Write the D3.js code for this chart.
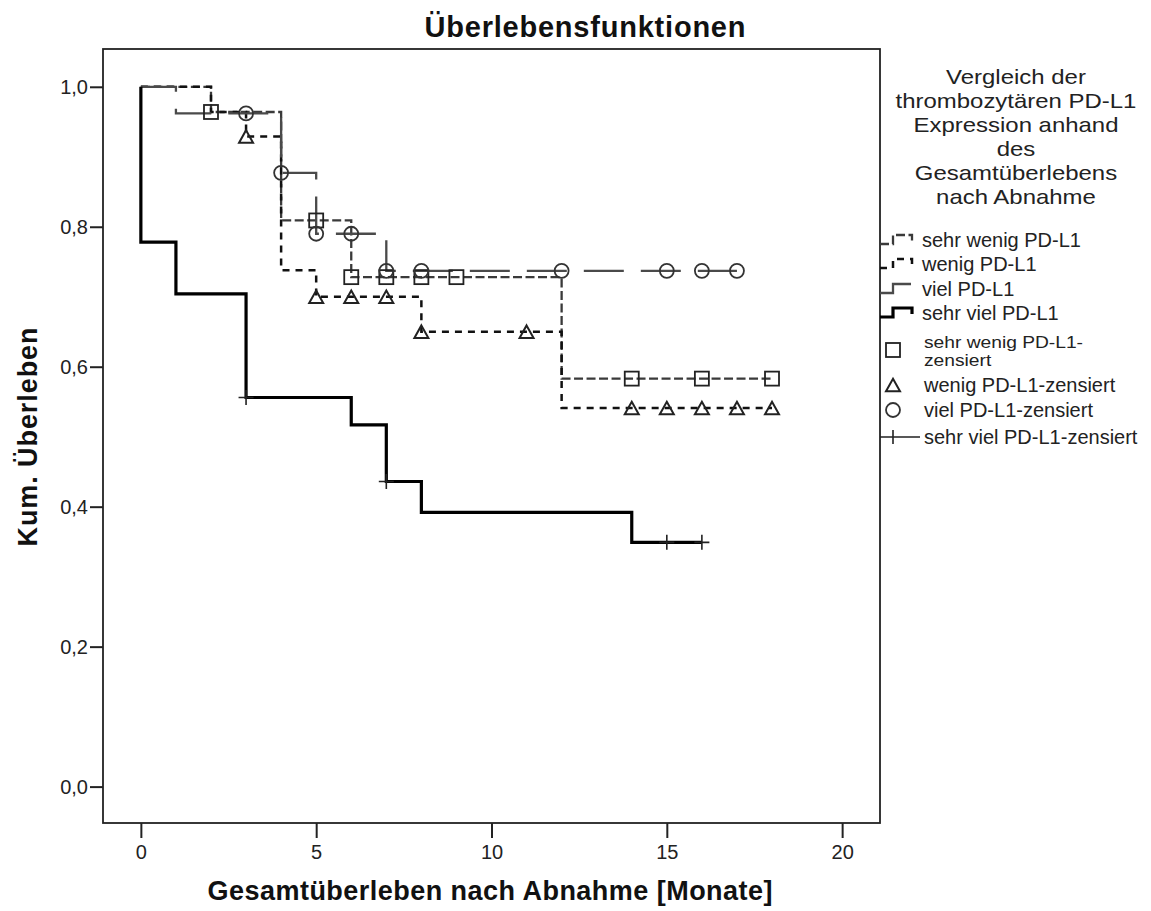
<!DOCTYPE html>
<html>
<head>
<meta charset="utf-8">
<script src="https://cdn.jsdelivr.net/npm/d3@7"></script>
<style>
  html, body { margin: 0; padding: 0; background: #fff; }
  svg { display: block; font-family: "Liberation Sans", Arial, sans-serif; }
</style>
</head>
<body>
<svg id="chart" width="1151" height="911"></svg>
<script>
// Kaplan-Meier survival data per PD-L1 group
const groupNames = ["sehr wenig PD-L1", "wenig PD-L1", "viel PD-L1", "sehr viel PD-L1"];

// event times (months) and survival after each step
const sehrWenigTimes = [0, 2, 4, 6, 12];
const sehrWenigSurv  = [1, 0.964, 0.809, 0.728, 0.583];
const sehrWenigEnd   = 18;
const sehrWenigCensored = [2, 5, 6, 7, 8, 9, 14, 16, 18];

const wenigTimes = [0, 2, 3, 4, 5, 8, 12];
const wenigSurv  = [1, 0.964, 0.929, 0.738, 0.700, 0.650, 0.541];
const wenigEnd   = 18;
const wenigCensored = [3, 5, 6, 7, 8, 11, 14, 15, 16, 17, 18];

const vielTimes = [0, 1, 4, 5, 7];
const vielSurv  = [1, 0.962, 0.877, 0.790, 0.737];
const vielEnd   = 17;
const vielCensored = [3, 4, 5, 6, 7, 8, 12, 15, 16, 17];

const sehrVielTimes = [0, 0, 1, 3, 6, 7, 8, 14];
const sehrVielSurv  = [1, 0.778, 0.704, 0.556, 0.517, 0.436, 0.392, 0.349];
const sehrVielEnd   = 16;
const sehrVielCensored = [3, 7, 15, 16];

const xTicks = [0, 5, 10, 15, 20];
const yTicks = [0, 0.2, 0.4, 0.6, 0.8, 1.0];

const chartTitle = "Überlebensfunktionen";
const xTitle = "Gesamtüberleben nach Abnahme [Monate]";
const yTitle = "Kum. Überleben";
const legendTitle = ["Vergleich der", "thrombozytären PD-L1", "Expression anhand", "des", "Gesamtüberlebens", "nach Abnahme"];
const censorLabels = [["sehr wenig PD-L1-", "zensiert"], ["wenig PD-L1-zensiert"], ["viel PD-L1-zensiert"], ["sehr viel PD-L1-zensiert"]];

const groups = [
  { name: groupNames[0], times: sehrWenigTimes, surv: sehrWenigSurv, end: sehrWenigEnd, censored: sehrWenigCensored,
    stroke: "#3a3a3a", width: 2.3, dash: "9,3.5", marker: "square" },
  { name: groupNames[1], times: wenigTimes, surv: wenigSurv, end: wenigEnd, censored: wenigCensored,
    stroke: "#111", width: 2.5, dash: "7,6", marker: "triangle" },
  { name: groupNames[2], times: vielTimes, surv: vielSurv, end: vielEnd, censored: vielCensored,
    stroke: "#4a4a4a", width: 2.3, dash: "40,17", marker: "circle" },
  { name: groupNames[3], times: sehrVielTimes, surv: sehrVielSurv, end: sehrVielEnd, censored: sehrVielCensored,
    stroke: "#000", width: 3.2, dash: null, marker: "cross" }
];

const svg = d3.select("#chart");
const frame = { left: 103, right: 880, top: 49, bottom: 823 };

const x = d3.scaleLinear().domain([-1.08, 21.08]).range([frame.left, frame.right]);
const y = d3.scaleLinear().domain([-0.052, 1.054]).range([frame.bottom, frame.top]);

const deLocale = d3.formatLocale({ decimal: ",", thousands: ".", grouping: [3], currency: ["", " €"] });
const fmt = deLocale.format(".1f");

// widen a text horizontally by a factor, keeping its font size
function stretch(sel, factor) {
  sel.each(function () {
    const w = this.getComputedTextLength();
    d3.select(this).attr("textLength", w * factor).attr("lengthAdjust", "spacingAndGlyphs");
  });
}

// plot frame
svg.append("rect")
  .attr("x", frame.left).attr("y", frame.top)
  .attr("width", frame.right - frame.left).attr("height", frame.bottom - frame.top)
  .attr("fill", "none").attr("stroke", "#222").attr("stroke-width", 1.8);

// axes
const yAxis = svg.append("g")
  .attr("transform", `translate(${frame.left},0)`)
  .call(d3.axisLeft(y).tickValues(yTicks).tickFormat(fmt).tickSize(13).tickPadding(2));
const xAxis = svg.append("g")
  .attr("transform", `translate(0,${frame.bottom})`)
  .call(d3.axisBottom(x).tickValues(xTicks).tickFormat(d3.format("d")).tickSize(15).tickPadding(7));
[xAxis, yAxis].forEach(g => {
  g.select(".domain").remove();
  g.selectAll(".tick line").attr("stroke", "#222").attr("stroke-width", 2);
  g.selectAll(".tick text").attr("fill", "#222").style("font-size", "20px")
    .style("font-family", "'Liberation Sans', Arial, sans-serif");
});

// titles
svg.append("text").attr("x", 585).attr("y", 37).attr("text-anchor", "middle")
  .style("font-size", "29px").style("font-weight", "bold").attr("fill", "#111")
  .attr("textLength", 321)
  .text(chartTitle);
svg.append("text").attr("x", 490).attr("y", 900).attr("text-anchor", "middle")
  .style("font-size", "27px").style("font-weight", "bold").attr("fill", "#111")
  .attr("textLength", 565)
  .text(xTitle);
svg.append("text").attr("transform", "translate(37,437) rotate(-90)").attr("text-anchor", "middle")
  .style("font-size", "27px").style("font-weight", "bold").attr("fill", "#111")
  .attr("textLength", 219)
  .text(yTitle);

// survival curves
const line = d3.line().x(d => x(d[0])).y(d => y(d[1])).curve(d3.curveStepAfter);
const valueAt = (g, t) => {
  let v = g.surv[0];
  g.times.forEach((tt, i) => { if (tt <= t) v = g.surv[i]; });
  return v;
};

function drawMarker(sel, type, cx, cy, size) {
  if (type === "square") {
    sel.append("rect").attr("x", cx - size / 2).attr("y", cy - size / 2)
      .attr("width", size).attr("height", size)
      .attr("fill", "none").attr("stroke", "#222").attr("stroke-width", 1.8);
  } else if (type === "triangle") {
    const h = size * 0.9;
    sel.append("path")
      .attr("d", `M${cx},${cy - h / 2}L${cx + size / 2},${cy + h / 2}L${cx - size / 2},${cy + h / 2}Z`)
      .attr("fill", "none").attr("stroke", "#222").attr("stroke-width", 2);
  } else if (type === "circle") {
    sel.append("circle").attr("cx", cx).attr("cy", cy).attr("r", size / 2)
      .attr("fill", "none").attr("stroke", "#333").attr("stroke-width", 1.8);
  } else if (type === "cross") {
    sel.append("path")
      .attr("d", `M${cx - size / 2},${cy}H${cx + size / 2}M${cx},${cy - size / 2}V${cy + size / 2}`)
      .attr("fill", "none").attr("stroke", "#222").attr("stroke-width", 1.6);
  }
}

const curves = svg.append("g");
groups.forEach(g => {
  const pts = g.times.map((t, i) => [t, g.surv[i]]);
  pts.push([g.end, g.surv[g.surv.length - 1]]);
  curves.append("path")
    .attr("d", line(pts))
    .attr("fill", "none")
    .attr("stroke", g.stroke)
    .attr("stroke-width", g.width)
    .attr("stroke-dasharray", g.dash)
    .attr("stroke-linecap", "butt");
});
groups.forEach(g => {
  const mg = curves.append("g");
  g.censored.forEach(t => drawMarker(mg, g.marker, x(t), y(valueAt(g, t)), g.marker === "cross" ? 15 : 14));
});

// legend
const legend = svg.append("g").style("font-family", "'Liberation Sans', Arial, sans-serif");
legendTitle.forEach((s, i) => {
  legend.append("text").attr("x", 1016).attr("y", 84 + i * 24).attr("text-anchor", "middle")
    .style("font-size", "21px").attr("fill", "#222").text(s)
    .call(stretch, 1.14);
});
const lineRows = [240, 264, 289, 313];
groups.forEach((g, i) => {
  const ry = lineRows[i];
  legend.append("path")
    .attr("d", `M880,${ry + 4}H893V${ry - 5}H912V${ry + 1}`)
    .attr("fill", "none").attr("stroke", g.stroke).attr("stroke-width", g.width)
    .attr("stroke-dasharray", g.dash);
  legend.append("text").attr("x", 922).attr("y", ry + 7)
    .style("font-size", "20px").attr("fill", "#222").text(g.name);
});
const markerRows = [350, 385, 410, 437];
groups.forEach((g, i) => {
  const ry = markerRows[i];
  if (g.marker === "cross") {
    legend.append("path").attr("d", `M880,${ry}H920M893,${ry - 7}V${ry + 7}`)
      .attr("fill", "none").attr("stroke", "#222").attr("stroke-width", 1.6);
  } else {
    drawMarker(legend, g.marker, 893, ry, 14);
  }
  const lines = censorLabels[i];
  if (lines.length > 1) {
    lines.forEach((s, j) => {
      legend.append("text").attr("x", 924).attr("y", ry - 2 + j * 18)
        .style("font-size", "16px").attr("fill", "#222").text(s)
        .call(stretch, 1.2);
    });
  } else {
    legend.append("text").attr("x", 924).attr("y", ry + 7)
      .style("font-size", "20px").attr("fill", "#222").text(lines[0]);
  }
});
</script>
</body>
</html>
